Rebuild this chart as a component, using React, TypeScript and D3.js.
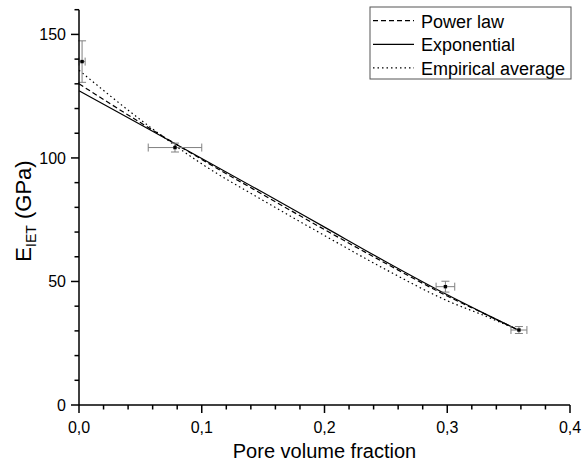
import React from "react";
import * as d3 from "d3";

const W = 584;
const H = 471;

// measured data points
const pointP = [0.0025, 0.0782, 0.2985, 0.3584];
const pointE = [139.0, 104.2, 47.9, 30.35];
const pointPErr = [0.0025, 0.0218, 0.0076, 0.0065];
const pointEErr = [8.4, 1.8, 2.2, 1.4];

// fitted curves
const curveP = [0, 0.05, 0.1, 0.15, 0.2, 0.25, 0.3, 0.33, 0.358];
const powerLaw = [130.0, 114.3, 99.4, 85.1, 71.0, 57.3, 44.1, 37.0, 30.3];
const exponential = [127.2, 113.5, 99.8, 86.0, 72.0, 58.0, 44.6, 37.1, 30.3];
const empirical = [135.5, 115.5, 97.6, 82.8, 68.6, 54.8, 42.2, 36.2, 30.3];

const xMajor = [0, 0.1, 0.2, 0.3, 0.4];
const xMajorLabels = ["0,0", "0,1", "0,2", "0,3", "0,4"];
const yMajor = [0, 50, 100, 150];
const yMajorLabels = ["0", "50", "100", "150"];

const legendLabels = ["Power law", "Exponential", "Empirical average"];
const legendDash = ["5,3", "", "1.5,3"];

export default function App() {
  const x = d3.scaleLinear().domain([0, 0.4]).range([79, 570]);
  const y = d3.scaleLinear().domain([0, 160]).range([405, 9.7]);
  const font = "'Liberation Sans', Arial, sans-serif";

  const xMinor = d3.range(0, 0.4001, 0.02).filter((v) => Math.abs(v * 10 - Math.round(v * 10)) > 1e-6);
  const yMinor = d3.range(0, 160.001, 10).filter((v) => v % 50 !== 0);

  const line = (vals: number[]) =>
    d3
      .line<number>()
      .x((_, i) => x(curveP[i]))
      .y((v) => y(v))
      .curve(d3.curveMonotoneX)(vals) || "";

  const curves = [powerLaw, exponential, empirical];
  const errColor = "#808080";

  return (
    <svg
      width={W}
      height={H}
      style={{ position: "absolute", left: 0, top: 0, background: "#fff" }}
      fontFamily={font}
    >
      <rect x={0} y={0} width={W} height={H} fill="#fff" />
      {/* curves */}
      {curves.map((c, i) => (
        <path
          key={i}
          d={line(c)}
          fill="none"
          stroke="#000"
          strokeWidth={1.2}
          strokeDasharray={legendDash[i] || undefined}
        />
      ))}
      {/* error bars */}
      {pointP.map((p, i) => {
        const cx = x(p);
        const cy = y(pointE[i]);
        const x1 = x(p - pointPErr[i]);
        const x2 = x(p + pointPErr[i]);
        const y1 = y(pointE[i] + pointEErr[i]);
        const y2 = y(pointE[i] - pointEErr[i]);
        return (
          <g key={i} stroke={errColor} strokeWidth={1}>
            <line x1={x1} x2={x2} y1={cy} y2={cy} />
            <line x1={x1} x2={x1} y1={cy - 4} y2={cy + 4} />
            <line x1={x2} x2={x2} y1={cy - 4} y2={cy + 4} />
            <line x1={cx} x2={cx} y1={y1} y2={y2} />
            <line x1={cx - 4} x2={cx + 4} y1={y1} y2={y1} />
            <line x1={cx - 4} x2={cx + 4} y1={y2} y2={y2} />
            <rect x={cx - 1.7} y={cy - 1.7} width={3.4} height={3.4} fill="#000" stroke="none" />
          </g>
        );
      })}
      {/* axes */}
      <g stroke="#000" strokeWidth={1.5}>
        <line x1={x(0)} x2={x(0.4)} y1={y(0)} y2={y(0)} />
        <line x1={x(0)} x2={x(0)} y1={y(0)} y2={y(160)} />
        {xMajor.map((v, i) => (
          <line key={"xm" + i} x1={x(v)} x2={x(v)} y1={y(0)} y2={y(0) + 8} />
        ))}
        {xMinor.map((v, i) => (
          <line key={"xn" + i} x1={x(v)} x2={x(v)} y1={y(0)} y2={y(0) + 4.5} />
        ))}
        {yMajor.map((v, i) => (
          <line key={"ym" + i} x1={x(0) - 8} x2={x(0)} y1={y(v)} y2={y(v)} />
        ))}
        {yMinor.map((v, i) => (
          <line key={"yn" + i} x1={x(0) - 4.5} x2={x(0)} y1={y(v)} y2={y(v)} />
        ))}
      </g>
      {xMajor.map((v, i) => (
        <text key={"xl" + i} x={x(v)} y={433} fontSize={16} textAnchor="middle" fill="#000">
          {xMajorLabels[i]}
        </text>
      ))}
      {yMajor.map((v, i) => (
        <text key={"yl" + i} x={66} y={y(v) + 5.8} fontSize={16} textAnchor="end" fill="#000">
          {yMajorLabels[i]}
        </text>
      ))}
      <text x={324.5} y={458} fontSize={20} textAnchor="middle" fill="#000">
        Pore volume fraction
      </text>
      <text
        transform={`translate(31,211) rotate(-90)`}
        fontSize={22}
        textAnchor="middle"
        fill="#000"
      >
        E
        <tspan fontSize={14} dy={5}>IET</tspan>
        <tspan dy={-5}> (GPa)</tspan>
      </text>
      {/* legend */}
      <rect x={370} y={7} width={201} height={72} fill="#fff" stroke="#555" strokeWidth={1} />
      {legendLabels.map((lab, i) => {
        const ly = 20.7 + i * 23.6;
        return (
          <g key={lab}>
            <line
              x1={373}
              x2={414}
              y1={ly}
              y2={ly}
              stroke="#000"
              strokeWidth={1.2}
              strokeDasharray={legendDash[i] || undefined}
            />
            <text x={421} y={ly + 6.8} fontSize={18} fill="#000">
              {lab}
            </text>
          </g>
        );
      })}
    </svg>
  );
}
